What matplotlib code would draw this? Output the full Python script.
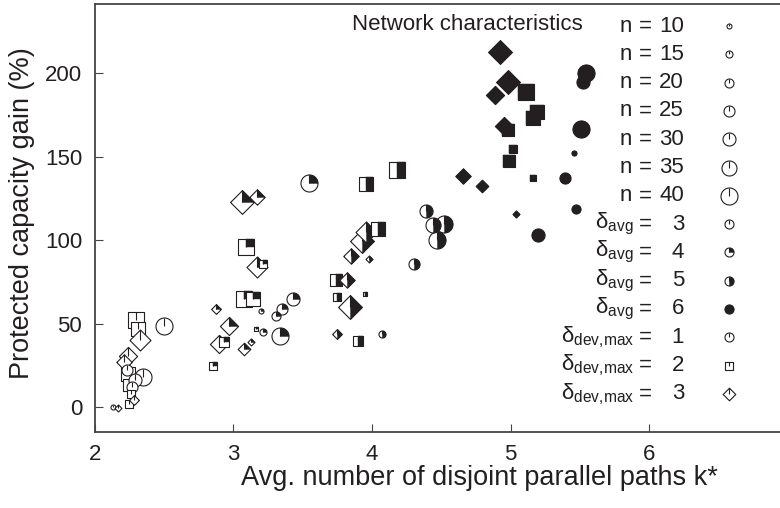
import matplotlib.pyplot as plt
import numpy as np
from matplotlib.path import Path

plt.rcParams['font.family'] = ['Liberation Sans', 'DejaVu Sans']
plt.rcParams['mathtext.default'] = 'regular'

ink = '#231f20'

# k*, gain (%), n, delta_avg, delta_dev_max
k = [4.92, 4.98, 4.89, 5.11, 5.19, 5.16, 4.95, 4.98, 5.02, 4.99, 5.16,
     5.54, 5.52, 5.51, 5.457, 5.39, 4.654, 4.79, 5.47, 5.04, 5.20,
     4.18, 3.96, 4.387, 4.44, 4.52, 4.467, 3.957, 3.926, 4.045, 3.85,
     3.98, 4.30, 3.74, 3.82, 3.75, 3.95, 3.84, 3.745, 3.90, 4.075,
     3.546, 3.09, 3.17, 3.216, 3.08, 3.14, 3.20, 3.305, 3.35, 3.43,
     3.34, 3.16, 3.216, 2.875, 2.97, 2.90, 2.93, 3.077, 3.13, 2.85,
     3.06, 3.17,
     2.30, 2.31, 2.50, 2.327, 2.24, 2.21, 2.35, 2.13, 2.17, 2.25,
     2.28, 2.24, 2.25, 2.27, 2.29, 2.26, 2.23]
gain = [212.8, 195, 187, 188.8, 177, 173.4, 168.4, 166, 154.7, 147.4, 137,
        200, 194.6, 166.5, 152.3, 137, 138.3, 132.4, 118.6, 115.8, 103,
        141.8, 133.6, 117.6, 108.8, 109.8, 100.1, 104.8, 99.5, 106.4, 90.7,
        88.7, 85.7, 75.9, 76.3, 66, 68, 60.1, 43.7, 39.4, 43.7,
        134.4, 95.6, 83.7, 85.5, 64.6, 64.6, 57.7, 54.8, 59, 65,
        42.4, 46.7, 44.7, 59, 48.7, 37.5, 38.8, 34.5, 39, 24.6,
        123, 126,
        52, 47, 48.3, 40.4, 30.5, 27, 17.7, 0, -0.6, 2,
        4, 20, 13, 12, 16, 8, 22]
n = [40, 40, 30, 40, 35, 35, 30, 30, 20, 30, 15,
     40, 30, 40, 10, 25, 25, 20, 20, 10, 30,
     40, 35, 30, 35, 40, 40, 35, 40, 35, 25,
     10, 25, 30, 25, 20, 10, 40, 15, 25, 15,
     40, 40, 35, 20, 40, 35, 10, 20, 25, 30,
     40, 10, 15, 15, 30, 30, 25, 20, 10, 20,
     40, 25,
     40, 35, 40, 35, 30, 25, 40, 10, 10, 20,
     15, 35, 30, 25, 30, 20, 25]
d_avg = [6] * 21 + [5] * 20 + [4] * 22 + [3] * 17
d_dev = [3, 3, 3, 2, 2, 2, 3, 2, 2, 2, 2,
         1, 1, 1, 1, 1, 3, 3, 1, 3, 1,
         2, 2, 1, 1, 1, 1, 3, 3, 2, 3,
         3, 1, 2, 3, 2, 2, 3, 3, 2, 1,
         1, 2, 3, 2, 2, 2, 1, 1, 1, 1,
         1, 2, 1, 3, 3, 3, 2, 3, 3, 2,
         3, 3,
         2, 2, 1, 3, 3, 3, 1, 1, 3, 2,
         3, 2, 2, 1, 1, 2, 1]

fill_of = {3: 0.0, 4: 0.25, 5: 0.5, 6: 1.0}


def radius(shape, th):
    c, s = np.abs(np.cos(th)), np.abs(np.sin(th))
    if shape == 1:
        return np.ones_like(th)
    if shape == 2:
        return 1 / np.maximum(c, s)
    return 1 / (c + s)


def outline_path(shape):
    th = np.linspace(np.pi / 2, np.pi / 2 - 2 * np.pi, 361)
    r = radius(shape, th)
    return Path(np.column_stack([r * np.cos(th), r * np.sin(th)]), closed=True)


def wedge_path(shape, f):
    if f >= 1:
        return outline_path(shape)
    th = np.linspace(np.pi / 2, np.pi / 2 - 2 * np.pi * f, int(360 * f) + 1)
    r = radius(shape, th)
    v = np.vstack([[0, 0], np.column_stack([r * np.cos(th), r * np.sin(th)]), [0, 0]])
    return Path(v, closed=True)


tick_path = Path([[0, 0], [0, 1]])


def size_px(nn, shape):
    d = 0.4 * nn + 1
    if shape == 2:
        return d * 0.95
    if shape == 3:
        return d * 1.4
    return d


def draw(ax, x, y, nn, da, dd, z, **kw):
    ms = size_px(nn, dd) * 0.72
    f = fill_of[da]
    ax.plot([x], [y], marker=outline_path(dd), ms=ms, mfc='white', mec=ink,
            mew=0.8, ls='none', zorder=z, **kw)
    if f > 0:
        ax.plot([x], [y], marker=wedge_path(dd, f), ms=ms, mfc=ink, mec=ink,
                mew=0.3, ls='none', zorder=z + 0.001, **kw)
    if f < 1:
        ax.plot([x], [y], marker=tick_path, ms=ms, mfc='none', mec=ink,
                mew=0.8, ls='none', zorder=z + 0.002, **kw)


W, H = 780, 508
fig = plt.figure(figsize=(W / 100, H / 100), dpi=100)
left, bottom_px, top_px = 94.7, 431.7, 4.0
ax = fig.add_axes([left / W, 1 - bottom_px / H, 1 - left / W, (bottom_px - top_px) / H])
ax.set_xlim(2, 2 + (W - left) / 138.65)
ax.set_ylim(-14.8, 241.5)

order = sorted(range(len(k)), key=lambda i: -n[i])
for j, i in enumerate(order):
    draw(ax, k[i], gain[i], n[i], d_avg[i], d_dev[i], 3 + j * 0.01)

ax.set_xticks([2, 3, 4, 5, 6])
ax.set_yticks([0, 50, 100, 150, 200])
ax.tick_params(direction='in', length=6, width=0.8, color='#444', labelsize=16,
               labelcolor=ink, pad=9)
for s in ['left', 'bottom', 'top']:
    ax.spines[s].set_color('#444')
    ax.spines[s].set_linewidth(1.3)
ax.spines['right'].set_visible(False)

fig.text(479 / W, 1 - 478 / H, 'Avg. number of disjoint parallel paths k*',
         ha='center', va='center', fontsize=19.5, color=ink)
fig.text(22 / W, 1 - 213 / H, 'Protected capacity gain (%)', rotation=90,
         ha='center', va='center', fontsize=19.5, color=ink)


# legend
def fx(px):
    return px / W


def fy(py):
    return 1 - py / H


leg_labels = ['n'] * 7 + [r'$\delta_{avg}$'] * 4 + [r'$\delta_{dev{,}max}$'] * 3
leg_values = ['10', '15', '20', '25', '30', '35', '40', '3', '4', '5', '6', '1', '2', '3']
leg_n = [10, 15, 20, 25, 30, 35, 40, 20, 20, 20, 20, 20, 20, 20]
leg_avg = [3] * 7 + [3, 4, 5, 6] + [3] * 3
leg_dev = [1] * 11 + [1, 2, 3]

fig.text(fx(583), fy(24), 'Network characteristics', ha='right', va='center',
         fontsize=16, color=ink)
for i in range(14):
    py = 26 + 28.3 * i
    fig.text(fx(634 if i > 6 else 632), fy(py), leg_labels[i], ha='right', va='center',
             fontsize=16, color=ink)
    fig.text(fx(645), fy(py), '=', ha='center', va='center', fontsize=16, color=ink)
    fig.text(fx(684), fy(py), leg_values[i], ha='right', va='center', fontsize=16, color=ink)
    draw(ax, fx(729), fy(py), leg_n[i], leg_avg[i], leg_dev[i], 10,
         transform=fig.transFigure, clip_on=False)

fig.savefig('out.png', dpi=100)
